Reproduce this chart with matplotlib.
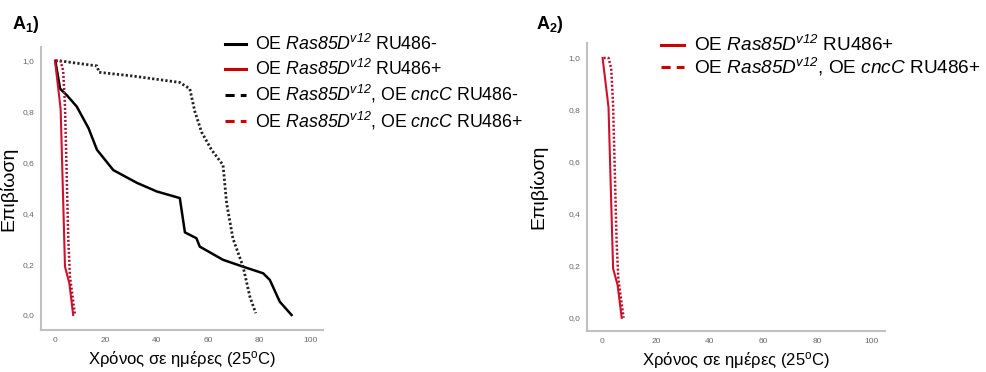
import numpy as np
import matplotlib
matplotlib.use("Agg")
import matplotlib.pyplot as plt

plt.rcParams['font.family'] = ['Liberation Sans', 'DejaVu Sans']
plt.rcParams['mathtext.fontset'] = 'custom'
# all-italic gene names: make \mathrm italic so digits slant too
plt.rcParams['mathtext.rm'] = 'Liberation Sans:italic'
plt.rcParams['mathtext.it'] = 'Liberation Sans:italic'
plt.rcParams['mathtext.sf'] = 'Liberation Sans'
plt.rcParams['mathtext.bf'] = 'Liberation Sans:bold'

# survival curves (days, survival fraction)
ras_minus_x = [0.3, 2.2, 4.8, 8.7, 13.3, 16.6, 23, 32.2, 40, 49, 51, 55.5, 56.8, 65.9, 73.75, 81.6, 84.2, 88.1, 92.7]
ras_minus_y = [1.0, 0.89, 0.865, 0.82, 0.735, 0.65, 0.57, 0.52, 0.486, 0.46, 0.325, 0.302, 0.269, 0.217, 0.19, 0.164, 0.138, 0.052, 0.0]

ras_plus_x = [0.2, 2.4, 4.1, 5.8, 7.3]
ras_plus_y = [1.0, 0.81, 0.19, 0.125, 0.0]

cnc_minus_x = [0.3, 2.0, 16.6, 17.4, 30.8, 49, 52.9, 54.9, 57.5, 61.4, 65.9, 67.3, 69.8, 73.75, 76.4, 78.7]
cnc_minus_y = [1.0, 1.0, 0.98, 0.955, 0.94, 0.915, 0.89, 0.8, 0.72, 0.65, 0.59, 0.44, 0.30, 0.19, 0.072, 0.007]

cnc_plus_x = [0.6, 2.4, 3.4, 4.1, 5.4, 6.05, 8.0]
cnc_plus_y = [1.0, 1.0, 0.96, 0.82, 0.295, 0.15, 0.0]

xticks = [0, 20, 40, 60, 80, 100]
yticks = [0.0, 0.2, 0.4, 0.6, 0.8, 1.0]
ytick_labels = ['0,0', '0,2', '0,4', '0,6', '0,8', '1,0']

red = '#d0102c'
dots = (0, (0.8, 0.8))
ras_lbl = r'$\mathrm{Ras85D}^{\mathrm{v12}}$'
cnc_lbl = r'$\mathrm{cncC}$'

fig = plt.figure(figsize=(9.87, 3.72), dpi=100)
ax1 = fig.add_axes([0.0415, 0.113, 0.2855, 0.761])
ax2 = fig.add_axes([0.595, 0.110, 0.302, 0.774])


def style(ax, xlim, ylim, ylab_x):
    ax.set_xlim(*xlim)
    ax.set_ylim(*ylim)
    ax.set_xticks(xticks)
    ax.set_yticks(yticks)
    ax.set_yticklabels(ytick_labels)
    ax.tick_params(length=0, labelsize=6, labelcolor='#666666', pad=5)
    for s in ['top', 'right']:
        ax.spines[s].set_visible(False)
    for s in ['left', 'bottom']:
        ax.spines[s].set_color('#c0c0c0')
        ax.spines[s].set_linewidth(1.5)
    ax.set_xlabel(r'Χρόνος σε ημέρες (25$^{\mathsf{o}}$C)', fontsize=12, labelpad=4)
    ax.set_ylabel('Επιβίωση', fontsize=14)
    ax.yaxis.set_label_coords(ylab_x, 0.5)


# left panel
ax1.plot(ras_minus_x, ras_minus_y, color='black', lw=1.8)
ax1.plot(ras_plus_x, ras_plus_y, color=red, lw=1.5)
ax1.plot(cnc_minus_x, cnc_minus_y, color='#222222', lw=2.0, ls=dots)
ax1.plot(cnc_plus_x, cnc_plus_y, color='#a8102c', lw=1.8, ls=dots)
style(ax1, (-5.3, 104.9), (-0.059, 1.055), -0.085)

h1, = ax1.plot([], [], color='black', lw=2.2)
h2, = ax1.plot([], [], color='#cc0000', lw=2.2)
h3, = ax1.plot([], [], color='black', lw=2.2, ls=(0, (3, 2)))
h4, = ax1.plot([], [], color='#cc0000', lw=2.2, ls=(0, (3, 2)))
fig.legend([h1, h2, h3, h4],
           ['OE ' + ras_lbl + ' RU486-', 'OE ' + ras_lbl + ' RU486+',
            'OE ' + ras_lbl + ', OE ' + cnc_lbl + ' RU486-',
            'OE ' + ras_lbl + ', OE ' + cnc_lbl + ' RU486+'],
           loc='upper left', bbox_to_anchor=(0.228, 0.908), frameon=False,
           fontsize=12.8, handlelength=1.2, handletextpad=0.5, labelspacing=0.25,
           borderaxespad=0, borderpad=0)

# right panel
ax2.plot(ras_plus_x, ras_plus_y, color=red, lw=1.5)
ax2.plot(cnc_plus_x, cnc_plus_y, color='#a8102c', lw=1.8, ls=dots)
style(ax2, (-5.5, 105.3), (-0.051, 1.057), -0.134)

fig.legend([h2, h4],
           ['OE ' + ras_lbl + ' RU486+',
            'OE ' + ras_lbl + ', OE ' + cnc_lbl + ' RU486+'],
           loc='upper left', bbox_to_anchor=(0.670, 0.905), frameon=False,
           fontsize=13.7, handlelength=1.2, handletextpad=0.5, labelspacing=0.05,
           borderaxespad=0, borderpad=0)

fig.text(0.012, 0.922, r'$\mathbf{A}_{\mathbf{1}}\mathbf{)}$', fontsize=13)
fig.text(0.543, 0.922, r'$\mathbf{A}_{\mathbf{2}}\mathbf{)}$', fontsize=13)

fig.savefig('out.png', dpi=100)
